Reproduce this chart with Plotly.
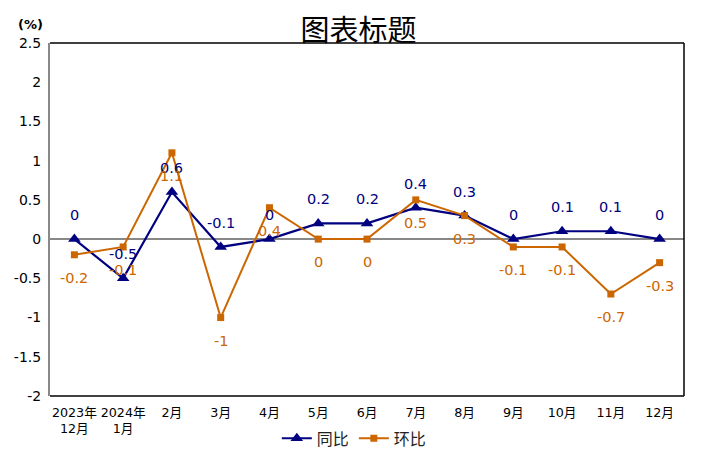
import plotly.graph_objects as go

categories = ["2023年<br>12月", "2024年<br>1月", "2月", "3月", "4月", "5月", "6月",
              "7月", "8月", "9月", "10月", "11月", "12月"]
tongbi = [0, -0.5, 0.6, -0.1, 0, 0.2, 0.2, 0.4, 0.3, 0, 0.1, 0.1, 0]
huanbi = [-0.2, -0.1, 1.1, -1, 0.4, 0, 0, 0.5, 0.3, -0.1, -0.1, -0.7, -0.3]
y_ticks = [-2, -1.5, -1, -0.5, 0, 0.5, 1, 1.5, 2, 2.5]

C_TB = "#000080"
C_HB = "#CC6600"
FONT = "DejaVu Sans, Noto Sans CJK SC, sans-serif"

xs = list(range(len(categories)))

fig = go.Figure()
fig.add_trace(go.Scatter(
    x=xs, y=tongbi, name="同比", mode="lines+markers",
    line=dict(color=C_TB, width=2.2),
    marker=dict(symbol="triangle-up", size=11, color=C_TB),
))
fig.add_trace(go.Scatter(
    x=xs, y=huanbi, name="环比", mode="lines+markers",
    line=dict(color=C_HB, width=2),
    marker=dict(symbol="square", size=7, color=C_HB),
))

ann = []
for x, v in zip(xs, tongbi):
    ann.append(dict(x=x, y=v, xref="x", yref="y", text=str(v), showarrow=False,
                    yshift=24, font=dict(color=C_TB, size=14.5, family=FONT)))
for x, v in zip(xs, huanbi):
    ann.append(dict(x=x, y=v, xref="x", yref="y", text=str(v), showarrow=False,
                    yshift=-23, font=dict(color=C_HB, size=14.5, family=FONT)))
ann.append(dict(x=-0.0315, y=1.051, xref="paper", yref="paper", text="<b>(%)</b>",
                xanchor="center", yanchor="middle",
                showarrow=False, font=dict(color="black", size=13, family=FONT)))

shapes = [
    dict(type="line", xref="paper", yref="paper", x0=0, x1=1, y0=1, y1=1,
         line=dict(color="black", width=1.5)),
    dict(type="line", xref="paper", yref="paper", x0=1, x1=1, y0=0, y1=1,
         line=dict(color="black", width=1.5)),
    dict(type="line", xref="paper", yref="paper", x0=0, x1=1, y0=0, y1=0,
         line=dict(color="black", width=1.5)),
]

fig.update_layout(
    width=717, height=467,
    margin=dict(l=50, r=33, t=43, b=71),
    paper_bgcolor="white", plot_bgcolor="white",
    title=dict(text="图表标题", x=0.5, xref="container", xanchor="center",
               y=0.935, yref="container", yanchor="middle", automargin=False,
               font=dict(size=29, color="black", family="Noto Sans CJK SC")),
    font=dict(family=FONT, color="black"),
    showlegend=True,
    legend=dict(orientation="h", x=0.48, xanchor="center", y=-0.12, yanchor="middle",
                font=dict(size=16, color="#222222", family="Noto Sans CJK SC"),
                bgcolor="rgba(0,0,0,0)"),
    annotations=ann,
    shapes=shapes,
)
fig.update_xaxes(
    range=[-0.5, len(categories) - 0.5], automargin=False,
    tickmode="array", tickvals=xs, ticktext=categories, ticklabelstandoff=7,
    tickfont=dict(size=12.7, color="black", family=FONT),
    showgrid=False, zeroline=False, showline=False, ticks="",
)
fig.update_yaxes(
    range=[-2, 2.5], automargin=False, tickmode="array", tickvals=y_ticks,
    ticktext=[str(t) for t in y_ticks], ticklabelstandoff=4,
    tickfont=dict(size=14, color="black", family=FONT),
    showgrid=False, zeroline=True, zerolinecolor="#888888", zerolinewidth=2,
    showline=True, linecolor="#888888", linewidth=2, ticks="",
)

fig.write_html("out.html", config={"displayModeBar": False},
               post_script="document.body.style.margin='0px';")
